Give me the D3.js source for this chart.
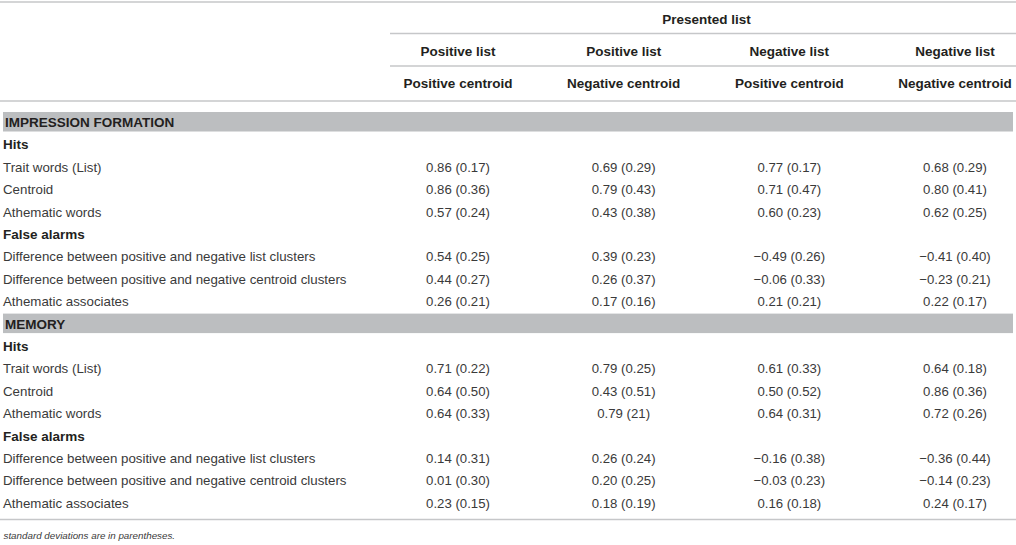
<!DOCTYPE html>
<html><head><meta charset="utf-8">
<script src="https://cdn.jsdelivr.net/npm/d3@7/dist/d3.min.js"></script>
<style>
html,body{margin:0;padding:0;background:#fff;}
svg{display:block;font-family:"Liberation Sans",Arial,Helvetica,sans-serif;}
</style></head>
<body>
<svg id="chart" width="1016" height="545"></svg>
<script>
const spanner = "Presented list";
const listHeads = ["Positive list","Positive list","Negative list","Negative list"];
const centroidHeads = ["Positive centroid","Negative centroid","Positive centroid","Negative centroid"];
const sections = ["IMPRESSION FORMATION","MEMORY"];
const groups = ["Hits","False alarms"];
const hitLabels = ["Trait words (List)","Centroid","Athematic words"];
const faLabels = ["Difference between positive and negative list clusters","Difference between positive and negative centroid clusters","Athematic associates"];
const impressionHits = [
  ["0.86 (0.17)","0.69 (0.29)","0.77 (0.17)","0.68 (0.29)"],
  ["0.86 (0.36)","0.79 (0.43)","0.71 (0.47)","0.80 (0.41)"],
  ["0.57 (0.24)","0.43 (0.38)","0.60 (0.23)","0.62 (0.25)"]
];
const impressionFA = [
  ["0.54 (0.25)","0.39 (0.23)","\u22120.49 (0.26)","\u22120.41 (0.40)"],
  ["0.44 (0.27)","0.26 (0.37)","\u22120.06 (0.33)","\u22120.23 (0.21)"],
  ["0.26 (0.21)","0.17 (0.16)","0.21 (0.21)","0.22 (0.17)"]
];
const memoryHits = [
  ["0.71 (0.22)","0.79 (0.25)","0.61 (0.33)","0.64 (0.18)"],
  ["0.64 (0.50)","0.43 (0.51)","0.50 (0.52)","0.86 (0.36)"],
  ["0.64 (0.33)","0.79 (21)","0.64 (0.31)","0.72 (0.26)"]
];
const memoryFA = [
  ["0.14 (0.31)","0.26 (0.24)","\u22120.16 (0.38)","\u22120.36 (0.44)"],
  ["0.01 (0.30)","0.20 (0.25)","\u22120.03 (0.23)","\u22120.14 (0.23)"],
  ["0.23 (0.15)","0.18 (0.19)","0.16 (0.18)","0.24 (0.17)"]
];
const footnote = "standard deviations are in parentheses.";

// build row list
const sectionData = [[impressionHits, impressionFA],[memoryHits, memoryFA]];
const rows = [];
sections.forEach((s, si) => {
  rows.push({type:"section", label:s});
  groups.forEach((g, gi) => {
    rows.push({type:"group", label:g});
    const labels = gi === 0 ? hitLabels : faLabels;
    labels.forEach((l, li) => rows.push({type:"data", label:l, values: sectionData[si][gi][li]}));
  });
});

const W = 1016, H = 545;
const svg = d3.select("#chart");
const x = d3.scaleLinear().domain([0, 3]).range([458, 955]);
const y = d3.scaleLinear().domain([0, rows.length - 1]).range([127, 507.8]);
const textCol = "#231f20";
const bodyCol = "#3a3a3a";
const ruleCol = "#c6c7c9";
const bandCol = "#bcbec0";

// rules
const rules = [
  {y:2, x1:0, x2:W},
  {y:33.5, x1:390, x2:W},
  {y:66, x1:390, x2:W},
  {y:101, x1:0, x2:W},
  {y:519.5, x1:0, x2:W}
];
svg.selectAll("line.rule").data(rules).join("line")
  .attr("x1", d => d.x1).attr("x2", d => d.x2)
  .attr("y1", d => d.y).attr("y2", d => d.y)
  .attr("stroke", ruleCol).attr("stroke-width", 1.6);

// header
svg.append("text").attr("x", (x(0)+x(3))/2).attr("y", 24)
  .attr("text-anchor","middle").attr("font-weight","bold").attr("font-size",13.5)
  .attr("fill", textCol).text(spanner);
svg.selectAll("text.lh").data(listHeads).join("text").attr("class","lh")
  .attr("x", (d,i) => x(i)).attr("y", 56)
  .attr("text-anchor","middle").attr("font-weight","bold").attr("font-size",13.5)
  .attr("fill", textCol).text(d => d);
svg.selectAll("text.ch").data(centroidHeads).join("text").attr("class","ch")
  .attr("x", (d,i) => x(i)).attr("y", 87.5)
  .attr("text-anchor","middle").attr("font-weight","bold").attr("font-size",13.5)
  .attr("fill", textCol).text(d => d);

// section bands
const secRows = rows.map((r,i) => ({...r, i})).filter(r => r.type === "section");
svg.selectAll("rect.band").data(secRows).join("rect").attr("class","band")
  .attr("x", 3).attr("width", 1010)
  .attr("y", d => y(d.i) - 15).attr("height", 19.5)
  .attr("fill", bandCol);

const g = svg.selectAll("g.row").data(rows).join("g").attr("class","row")
  .attr("transform", (d,i) => `translate(0,${y(i)})`);

g.append("text")
  .attr("x", d => d.type === "section" ? 5 : 3)
  .attr("font-size", d => d.type === "data" ? 13.3 : 13.5)
  .attr("font-weight", d => d.type === "data" ? "normal" : "bold")
  .attr("fill", d => d.type === "data" ? bodyCol : textCol)
  .text(d => d.label);

g.filter(d => d.type === "data").selectAll("text.val").data(d => d.values).join("text").attr("class","val")
  .attr("x", (d,i) => x(i)).attr("text-anchor","middle")
  .attr("font-size", 13.2).attr("fill", bodyCol).text(d => d);

svg.append("text").attr("x", 3.5).attr("y", 539)
  .attr("font-size", 9.8).attr("font-style","italic").attr("fill", bodyCol)
  .text(footnote);
</script>
</body></html>
